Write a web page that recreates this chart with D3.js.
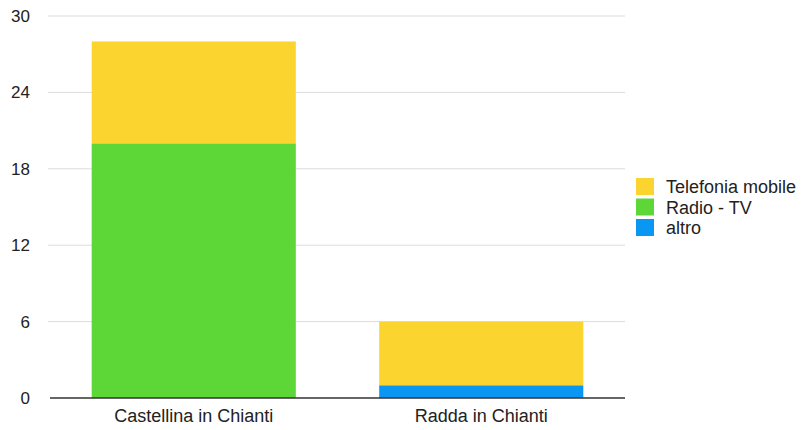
<!DOCTYPE html>
<html><head><meta charset="utf-8">
<script src="https://cdn.jsdelivr.net/npm/d3@7"></script>
<style>body{margin:0;background:#fff;} text{font-family:"Liberation Sans",Arial,Helvetica,sans-serif;}</style>
</head><body>
<svg id="c" width="803" height="430"></svg>
<script>
const categories = ["Castellina in Chianti", "Radda in Chianti"];
const seriesNames = ["altro", "Radio - TV", "Telefonia mobile"];
const altro = [0, 1];
const radioTV = [20, 0];
const telefonia = [8, 5];
const yTicks = [0, 6, 12, 18, 24, 30];
const legendOrder = ["Telefonia mobile", "Radio - TV", "altro"];
const colors = {"altro": "#0A96F3", "Radio - TV": "#5DD638", "Telefonia mobile": "#FCD42F"};

const rows = categories.map((c, i) => ({cat: c, "altro": altro[i], "Radio - TV": radioTV[i], "Telefonia mobile": telefonia[i]}));
const stack = d3.stack().keys(seriesNames)(rows);

const svg = d3.select("#c");
const x = d3.scaleBand().domain(categories).range([50, 625]).paddingInner(0.29).paddingOuter(0.145);
const y = d3.scaleLinear().domain([0, 30]).range([398, 16]);

// grid
svg.append("g").selectAll("line").data(yTicks.filter(t => t !== 0)).join("line")
  .attr("x1", 48).attr("x2", 625).attr("y1", d => y(d)).attr("y2", d => y(d))
  .attr("stroke", "#dcdcdc").attr("stroke-width", 1);

// bars
svg.append("g").selectAll("g").data(stack).join("g")
  .attr("fill", d => colors[d.key])
  .selectAll("rect").data(d => d).join("rect")
  .attr("x", d => x(d.data.cat)).attr("width", x.bandwidth())
  .attr("y", d => y(d[1])).attr("height", d => y(d[0]) - y(d[1]));

// zero line
svg.append("line").attr("x1", 50).attr("x2", 625).attr("y1", y(0)).attr("y2", y(0))
  .attr("stroke", "#333").attr("stroke-width", 1.5);

// y labels
svg.append("g").selectAll("text").data(yTicks).join("text")
  .attr("x", 30).attr("y", d => y(d)).attr("dy", "0.35em")
  .attr("text-anchor", "end").attr("font-size", 17).attr("fill", "#222")
  .text(d => d);

// x labels
svg.append("g").selectAll("text").data(categories).join("text")
  .attr("x", d => x(d) + x.bandwidth() / 2).attr("y", 422)
  .attr("text-anchor", "middle").attr("font-size", 18).attr("fill", "#222")
  .text(d => d);

// legend
const lg = svg.append("g").attr("transform", "translate(636,178)");
const li = lg.selectAll("g").data(legendOrder).join("g").attr("transform", (d, i) => `translate(0,${i * 20.5})`);
li.append("rect").attr("width", 18).attr("height", 17).attr("fill", d => colors[d]);
li.append("text").attr("x", 30).attr("y", 15).attr("font-size", 18).attr("fill", "#222").text(d => d);
</script>
</body></html>
